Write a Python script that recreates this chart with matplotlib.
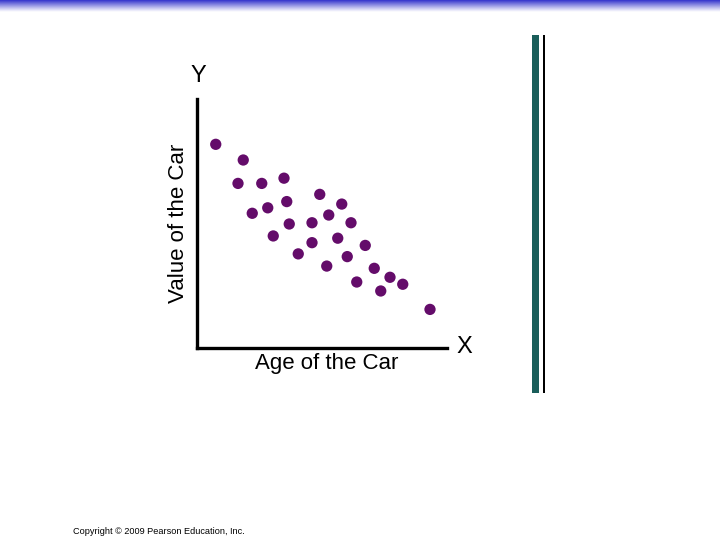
"""Scatter: value of a car vs its age (slide recreation)."""

import matplotlib
matplotlib.use("Agg")
import matplotlib.pyplot as plt
import numpy as np

# ── Data (arbitrary 0-10 units) ──────────────────────────────────────────
age = [0.75, 1.85, 1.64, 2.59, 3.48, 2.21, 2.83, 3.59, 3.69, 3.05,
       4.91, 5.79, 5.27, 4.60, 6.16, 5.63, 4.60, 4.05, 6.73, 6.01,
       5.19, 7.09, 7.72, 8.23, 6.39, 7.35, 9.32]
value = [8.18, 7.55, 6.61, 6.61, 6.82, 5.41, 5.63, 5.88, 4.98, 4.50,
         6.17, 5.78, 5.34, 5.03, 5.03, 4.41, 4.23, 3.78, 4.12, 3.67,
         3.29, 3.20, 2.84, 2.56, 2.65, 2.29, 1.55]

x_label = "Age of the Car"
y_label = "Value of the Car"
copyright_text = "Copyright © 2009 Pearson Education, Inc."

W, H = 720, 540
FONT = ["Liberation Sans", "DejaVu Sans"]

fig = plt.figure(figsize=(W / 100, H / 100), dpi=100)

# ── Slide decoration: blue fade at top, two vertical bars ────────────────
bg = fig.add_axes([0, 0, 1, 1])
bg.set_xlim(0, W)
bg.set_ylim(H, 0)
bg.axis("off")
fade = np.linspace(1, 0, 64) ** 1.1
top = np.ones((64, 2, 3))
blue = np.array([0.2, 0.2, 0.8])
for i, a in enumerate(fade):
    top[i, :, :] = a * blue + (1 - a) * np.ones(3)
bg.imshow(top, extent=[0, W, 12, 0], aspect="auto", interpolation="bilinear")
bg.add_patch(plt.Rectangle((532, 35), 7, 358, color="#1a5e5a", lw=0))
bg.add_patch(plt.Rectangle((543, 35), 2.2, 358, color="black", lw=0))
bg.text(73, 531, copyright_text, fontsize=6.6, family=FONT, va="center")

# ── Scatter plot ─────────────────────────────────────────────────────────
ax = fig.add_axes([197 / W, 1 - 348 / H, 250 / W, 249 / H])
ax.scatter(age, value, s=66, color="#640c6a", edgecolors="none", zorder=3)
ax.set_xlim(0, 10)
ax.set_ylim(0, 10)
ax.set_xticks([])
ax.set_yticks([])
for side in ["top", "right"]:
    ax.spines[side].set_visible(False)
for side in ["left", "bottom"]:
    ax.spines[side].set_linewidth(2.4)

# axis titles placed in slide pixels
bg.text(327, 363, x_label, fontsize=16, family=FONT, ha="center", va="center")
bg.text(178, 223, y_label, fontsize=16, family=FONT, ha="center", va="center",
        rotation=90)
bg.text(198, 76, "Y", fontsize=17, family=FONT, ha="center", va="center")
bg.text(464, 347, "X", fontsize=17, family=FONT, ha="center", va="center")

fig.savefig("out.png", dpi=100)
